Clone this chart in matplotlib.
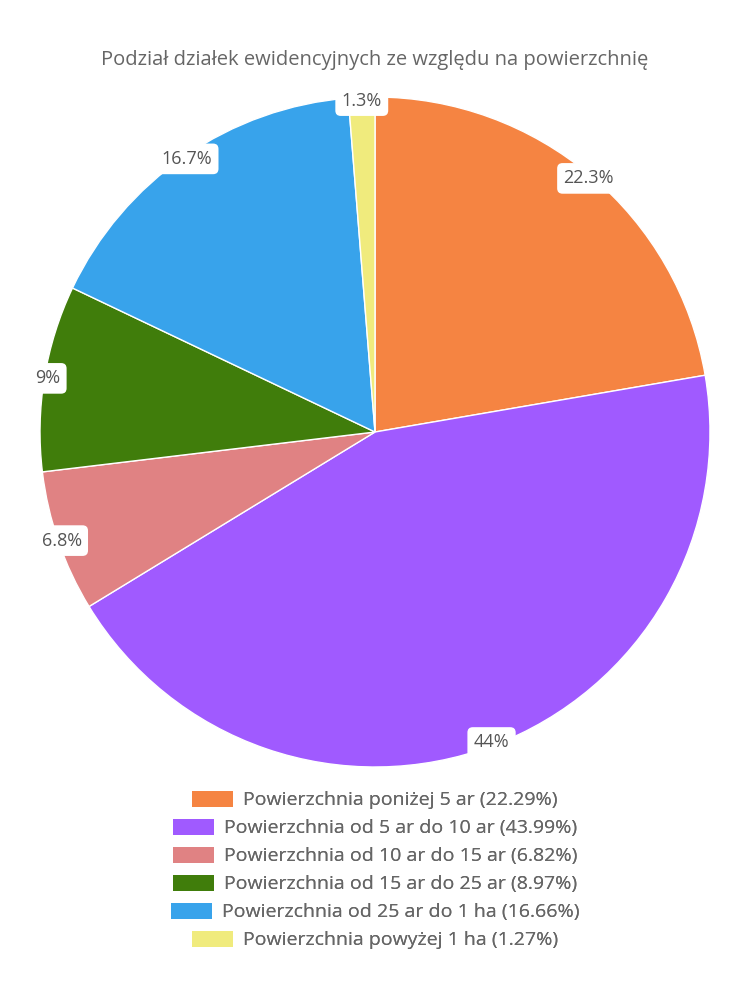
import numpy as np
import matplotlib
matplotlib.use('Agg')
import matplotlib.pyplot as plt
from matplotlib.patches import Patch

plt.rcParams['font.family'] = ['Open Sans', 'DejaVu Sans']

title = 'Podział działek ewidencyjnych ze względu na powierzchnię'
categories = ['Powierzchnia poniżej 5 ar',
              'Powierzchnia od 5 ar do 10 ar',
              'Powierzchnia od 10 ar do 15 ar',
              'Powierzchnia od 15 ar do 25 ar',
              'Powierzchnia od 25 ar do 1 ha',
              'Powierzchnia powyżej 1 ha']
values = [22.29, 43.99, 6.82, 8.97, 16.66, 1.27]
colors = ['#F58442', '#A05AFF', '#E08283', '#407D0B', '#38A3EB', '#F0EB7D']

txt_col = '#666666'

fig = plt.figure(figsize=(7.5, 10), dpi=100)
cx, cy, r = 375, 432, 335
ax = fig.add_axes([(cx - r) / 750, 1 - (cy + r) / 1000, 2 * r / 750, 2 * r / 1000])

wedges, _ = ax.pie(values, colors=colors, startangle=90, counterclock=False,
                   wedgeprops=dict(edgecolor='white', linewidth=1))
ax.set_xlim(-1, 1)
ax.set_ylim(-1, 1)
ax.set_aspect('equal')
ax.axis('off')


def fmt(v):
    s = '%.1f' % v
    if s.endswith('.0'):
        s = s[:-2]
    return s + '%'


for w, v in zip(wedges, values):
    ang = np.deg2rad((w.theta1 + w.theta2) / 2)
    x = 0.99 * np.cos(ang)
    y = 0.99 * np.sin(ang)
    ax.text(x, y, fmt(v), ha='center', va='center', fontsize=13, color='#555555',
            clip_on=False, zorder=5,
            bbox=dict(boxstyle='round,pad=0.35,rounding_size=0.3', fc='white', ec='none'))

fig.text(0.5, 0.94, title, ha='center', va='center', fontsize=14.5, color=txt_col)

# one legend per row so each line is centred on its own
for i, (lab, v, c) in enumerate(zip(categories, values, colors)):
    y = 1 - (800 + i * 28) / 1000
    leg = fig.legend(handles=[Patch(facecolor=c, edgecolor='none')],
                     labels=['%s (%.2f%%)' % (lab, v)],
                     loc='center', bbox_to_anchor=(0.5, y), frameon=False,
                     fontsize=14, handlelength=2.1, handleheight=0.9,
                     handletextpad=0.5, borderpad=0, labelcolor=txt_col)
    fig.add_artist(leg)

fig.savefig('out.png', dpi=100, facecolor='white')
